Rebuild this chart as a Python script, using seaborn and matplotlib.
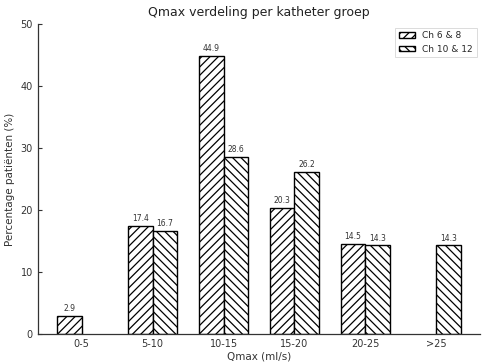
import numpy as np
import pandas as pd
import matplotlib
matplotlib.use('Agg')
import matplotlib.pyplot as plt
import matplotlib.patches as mpatches
import seaborn as sns

# Data
categorieen = ['0-5', '5-10', '10-15', '15-20', '20-25', '>25']
ch_6_8 = [2.9, 17.4, 44.9, 20.3, 14.5, np.nan]
ch_10_12 = [np.nan, 16.7, 28.6, 26.2, 14.3, 14.3]
groepen = ['Ch 6 & 8', 'Ch 10 & 12']
hatches = ['////', '\\\\\\\\']

df = pd.DataFrame({
    'Qmax': categorieen * 2,
    'groep': [groepen[0]] * len(categorieen) + [groepen[1]] * len(categorieen),
    'pct': ch_6_8 + ch_10_12,
})

sns.set_style('white')
plt.rcParams['font.family'] = ['DejaVu Sans']
plt.rcParams['hatch.linewidth'] = 0.9

fig, ax = plt.subplots(figsize=(4.85, 3.64), dpi=100)
sns.barplot(data=df, x='Qmax', y='pct', hue='groep', hue_order=groepen,
            order=categorieen, palette=['white', 'white'], edgecolor='black',
            linewidth=1.0, width=0.7, gap=0, legend=False, ax=ax, errorbar=None)

for cont, h in zip(ax.containers, hatches):
    for p in cont.patches:
        p.set_hatch(h)
        p.set_facecolor('white')
        p.set_edgecolor('black')
    labels = ['' if np.isnan(v) else f'{v:.1f}' for v in cont.datavalues]
    ax.bar_label(cont, labels=labels, fontsize=5.5, padding=2, color='#333333')

handles = [mpatches.Patch(facecolor='white', edgecolor='black', hatch=h, label=g)
           for g, h in zip(groepen, hatches)]
leg = ax.legend(handles=handles, loc='upper right', fontsize=6.5, frameon=True,
                fancybox=False, handlelength=1.8, handleheight=0.6,
                borderaxespad=0.4, edgecolor='#cccccc')
leg.get_frame().set_linewidth(0.6)

ax.set_xlim(-0.62, 5.62)
ax.set_ylim(0, 50)
ax.set_yticks([0, 10, 20, 30, 40, 50])
ax.set_title('Qmax verdeling per katheter groep', fontsize=9, color='#222222')
ax.set_xlabel('Qmax (ml/s)', fontsize=7.5, color='#333333', labelpad=2)
ax.set_ylabel('Percentage patiënten (%)', fontsize=7.5, color='#333333')
ax.tick_params(axis='both', direction='in', length=3, labelsize=7,
               colors='#333333', left=True, bottom=True)
sns.despine(ax=ax)
for s in ['left', 'bottom']:
    ax.spines[s].set_color('#333333')
    ax.spines[s].set_linewidth(0.9)

fig.subplots_adjust(left=0.078, right=0.99, bottom=0.082, top=0.934)
fig.savefig('out.png', dpi=100)
